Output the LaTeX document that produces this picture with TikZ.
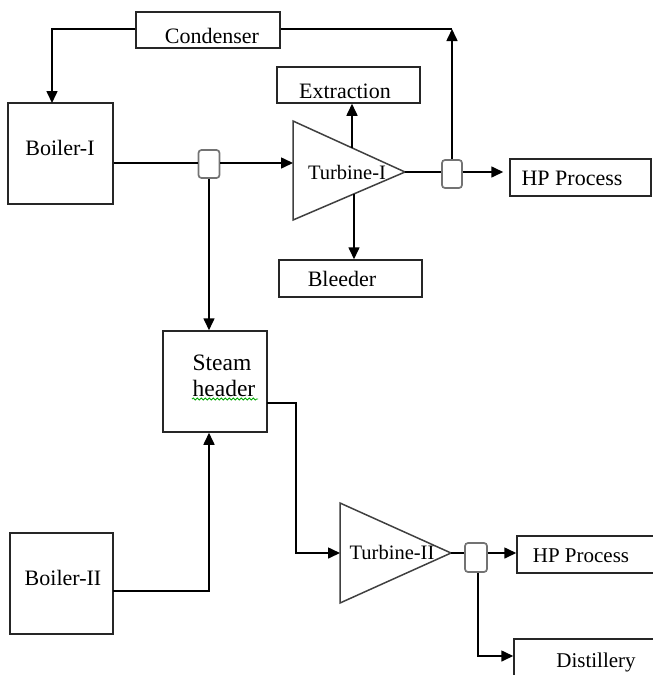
\documentclass[tikz,border=0pt]{standalone}
\usepackage{fontspec}
\setmainfont{Liberation Serif}
\usetikzlibrary{arrows.meta,decorations.pathmorphing}
\begin{document}
\begin{tikzpicture}[x=1pt,y=-1pt,
  box/.style={draw=black!85,line width=1.5pt,rectangle,inner sep=0pt},
  junc/.style={draw=black!55,line width=1.7pt,rectangle,rounded corners=3pt,inner sep=0pt,minimum width=20pt,minimum height=28pt,fill=white},
  turb/.style={draw=black!75,line width=1.5pt,line join=miter},
  ln/.style={draw=black,line width=1.6pt},
  arr/.style={ln,-{Triangle[length=12pt,width=11pt]}},
  lbl/.style={inner sep=0pt,font=\fontsize{22}{26}\selectfont},
  tlbl/.style={inner sep=0pt,font=\fontsize{20.5}{24}\selectfont}]
\useasboundingbox (0,0) rectangle (653,675);
% boxes
\node[box,minimum width=144pt,minimum height=36pt] (cond) at (208,30) {};
\node[box,minimum width=105pt,minimum height=101pt] (b1) at (60.5,153.5) {};
\node[box,minimum width=143pt,minimum height=36pt] (ext) at (348.5,85) {};
\node[box,minimum width=143pt,minimum height=37pt] (bleed) at (350.5,278.5) {};
\node[box,minimum width=141pt,minimum height=37pt] (hp1) at (580.5,177.5) {};
\node[box,minimum width=104pt,minimum height=101pt] (sh) at (215,381.5) {};
\node[box,minimum width=103pt,minimum height=101pt] (b2) at (61.5,583.5) {};
\node[box,minimum width=163pt,minimum height=37pt] (hp2) at (598.5,554.5) {};
\node[box,minimum width=166pt,minimum height=61pt] (dist) at (597,669.5) {};
% turbines
\coordinate (t1a) at (293,121); \coordinate (t1b) at (293,220); \coordinate (t1tip) at (405,172);
\coordinate (t2a) at (340,503); \coordinate (t2b) at (340,603); \coordinate (t2tip) at (451,553);
\draw[turb] (t1a) -- (t1tip) -- (t1b) -- cycle;
\draw[turb] (t2a) -- (t2tip) -- (t2b) -- cycle;
\coordinate (t1in) at (293,163);
\coordinate (t1top) at (352,148);
\coordinate (t1bot) at (354,194);
\coordinate (t2in) at (340,553);
% junctions
\node[junc,minimum width=21pt] (j1) at (209,164) {};
\node[junc] (j2) at (452,174) {};
\node[junc,minimum width=22pt,minimum height=29pt] (j3) at (476,557.5) {};
% helper coordinates
\coordinate (b1in) at (52,103);
\coordinate (ctop) at (452,29);
\coordinate (shout) at (267,403);
\coordinate (shbend) at (296,403);
\coordinate (b2out) at (113,591);
\coordinate (b2bend) at (209,591);
\coordinate (j3bend) at (478,656);
% connectors
\draw[arr] (cond.west |- 0,29) -| (b1in);
\draw[ln] (cond.east |- 0,29) -- (ctop);
\draw[arr] (j2.north) -- (ctop);
\draw[ln] (b1.east |- 0,163) -- (j1.west |- 0,163);
\draw[arr] (j1.east |- 0,163) -- (t1in);
\draw[arr] (j1.south) -- (j1.south |- sh.north);
\draw[ln] (t1tip) -- (j2.west |- t1tip);
\draw[arr,shorten >=6pt] (j2.east |- t1tip) -- (hp1.west |- t1tip);
\draw[arr] (t1top) -- (t1top |- ext.south);
\draw[arr] (t1bot) -- (t1bot |- bleed.north);
\draw[arr] (shout) -- (shbend) |- (t2in);
\draw[arr] (b2out) -- (b2bend) -- (b2bend |- sh.south);
\draw[ln] (t2tip) -- (j3.west |- t2tip);
\draw[arr] (j3.east |- t2tip) -- (hp2.west |- t2tip);
\draw[arr] (j3.south -| j3bend) -- (j3bend) -- (j3bend -| dist.west);
% labels
\node[lbl] (lcond) at (212,36) {Condenser};
\node[lbl] (lb1) at (60,148) {Boiler-I};
\node[lbl] (lext) at (345,91) {Extraction};
\node[tlbl] (lt1) at (347,172) {Turbine-I};
\node[lbl] (lbleed) at (342,279) {Bleeder};
\node[lbl] (lhp1) at (572,178) {HP Process};
\node[lbl,font=\fontsize{23.5}{27}\selectfont] (lsteam) at (222,363) {Steam};
\node[lbl,font=\fontsize{23.5}{27}\selectfont] (lheader) at (224,388) {header};
\draw[green!65!black,line width=0.8pt,decorate,decoration={snake,amplitude=1.1pt,segment length=4pt}] (192,399) -- (258,399);
\node[lbl] (lb2) at (63,578) {Boiler-II};
\node[tlbl] (lt2) at (392,552) {Turbine-II};
\node[lbl,font=\fontsize{21}{25}\selectfont] (lhp2) at (581,556) {HP Process};
\node[lbl,font=\fontsize{21}{25}\selectfont] (ldist) at (596,662) {Distillery};
\end{tikzpicture}
\end{document}
